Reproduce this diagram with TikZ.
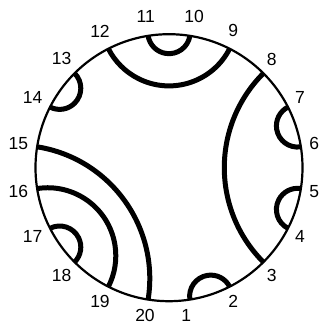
\documentclass[tikz,border=0pt]{standalone}
\usepackage{fontspec}
\setmainfont{Liberation Sans}
\usetikzlibrary{calc}
\begin{document}
\begin{tikzpicture}[x=1pt,y=1pt,
  rim/.style={line width=2.2pt},
  geo/.style={line width=5pt},
  num/.style={font=\fontsize{17.5}{17.5}\selectfont, inner sep=0pt, anchor=center}]
\useasboundingbox (0,0) rectangle (321,325);
\def\R{133.5}
\coordinate (O) at (169,157.3);
\foreach \k in {1,...,20} { \coordinate (p\k) at ($(O)+({18*\k-99}:\R)$); }
\newcommand\geoarc[2]{%
  \pgfmathsetmacro\ga{18*#1-99}%
  \pgfmathsetmacro\gb{18*#2-99}%
  \pgfmathsetmacro\gr{\R*tan((\gb-\ga)/2)}%
  \draw[geo] (p#1) arc[start angle=\ga+270, end angle=\gb+90, radius=\gr];}
\geoarc{10}{11}
\geoarc{9}{12}
\geoarc{3}{8}
\geoarc{6}{7}
\geoarc{4}{5}
\geoarc{13}{14}
\geoarc{15}{20}
\geoarc{16}{19}
\geoarc{17}{18}
\geoarc{1}{2}
\draw[rim] (O) circle[radius=\R];
\node[num] (l11) at (145.8,308.7) {11};
\node[num] (l10) at (194.2,308.7) {10};
\node[num] (l9) at (233.3,294.2) {9};
\node[num] (l12) at (100,293.8) {12};
\node[num] (l8) at (271.7,265.8) {8};
\node[num] (l13) at (61.7,266.2) {13};
\node[num] (l7) at (300,227.5) {7};
\node[num] (l14) at (32.7,227.5) {14};
\node[num] (l6) at (314.2,181.7) {6};
\node[num] (l15) at (18.3,181.7) {15};
\node[num] (l5) at (314.2,133.3) {5};
\node[num] (l16) at (18.3,133.3) {16};
\node[num] (l4) at (300,88.3) {4};
\node[num] (l17) at (32.7,88.3) {17};
\node[num] (l3) at (271.7,49.5) {3};
\node[num] (l18) at (61.7,49.5) {18};
\node[num] (l2) at (233.3,23.3) {2};
\node[num] (l19) at (100,23.3) {19};
\node[num] (l1) at (186.2,10) {1};
\node[num] (l20) at (145,10) {20};
\end{tikzpicture}
\end{document}
